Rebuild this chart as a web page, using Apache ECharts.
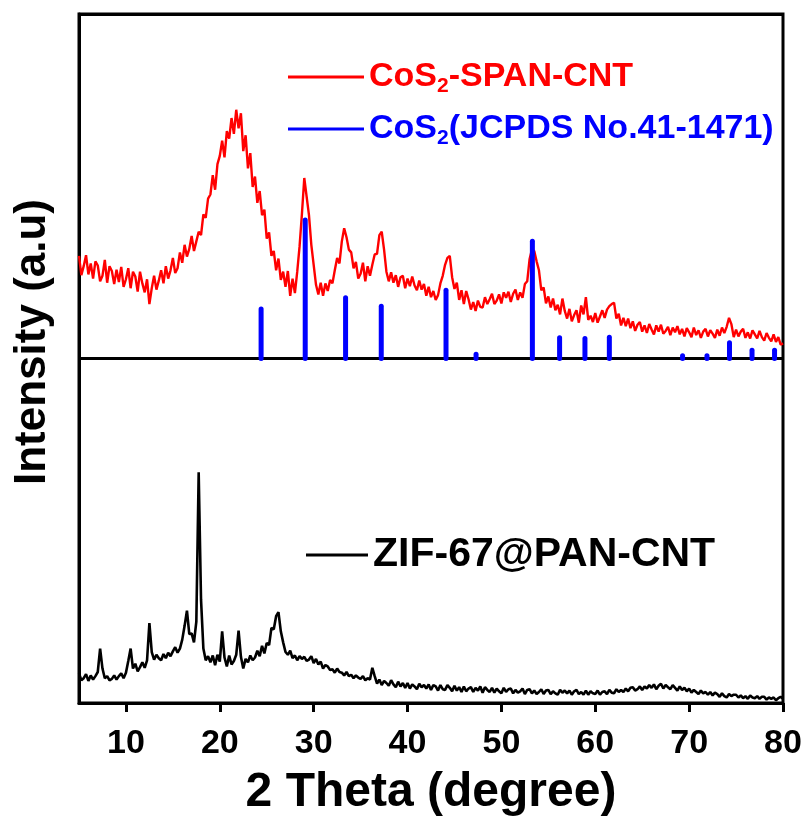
<!DOCTYPE html>
<html>
<head>
<meta charset="utf-8">
<script src="https://cdn.jsdelivr.net/npm/echarts@6/dist/echarts.min.js"></script>
<style>html,body{margin:0;padding:0;background:#fff}#c{width:809px;height:827px}</style>
</head>
<body>
<div id="c"></div>
<script>
// 2-theta grid (degree)
const theta = [
5,5.25,5.5,5.75, 6,6.25,6.5,6.75, 7,7.25,7.5,7.75, 8,8.25,8.5,8.75, 9,9.25,9.5,9.75,
10,10.25,10.5,10.75, 11,11.25,11.5,11.75, 12,12.25,12.5,12.75, 13,13.25,13.5,13.75, 14,14.25,14.5,14.75,
15,15.25,15.5,15.75, 16,16.25,16.5,16.75, 17,17.25,17.5,17.75, 18,18.25,18.5,18.75, 19,19.25,19.5,19.75,
20,20.25,20.5,20.75, 21,21.25,21.5,21.75, 22,22.25,22.5,22.75, 23,23.25,23.5,23.75, 24,24.25,24.5,24.75,
25,25.25,25.5,25.75, 26,26.25,26.5,26.75, 27,27.25,27.5,27.75, 28,28.25,28.5,28.75, 29,29.25,29.5,29.75,
30,30.25,30.5,30.75, 31,31.25,31.5,31.75, 32,32.25,32.5,32.75, 33,33.25,33.5,33.75, 34,34.25,34.5,34.75,
35,35.25,35.5,35.75, 36,36.25,36.5,36.75, 37,37.25,37.5,37.75, 38,38.25,38.5,38.75, 39,39.25,39.5,39.75,
40,40.25,40.5,40.75, 41,41.25,41.5,41.75, 42,42.25,42.5,42.75, 43,43.25,43.5,43.75, 44,44.25,44.5,44.75,
45,45.25,45.5,45.75, 46,46.25,46.5,46.75, 47,47.25,47.5,47.75, 48,48.25,48.5,48.75, 49,49.25,49.5,49.75,
50,50.25,50.5,50.75, 51,51.25,51.5,51.75, 52,52.25,52.5,52.75, 53,53.25,53.5,53.75, 54,54.25,54.5,54.75,
55,55.25,55.5,55.75, 56,56.25,56.5,56.75, 57,57.25,57.5,57.75, 58,58.25,58.5,58.75, 59,59.25,59.5,59.75,
60,60.25,60.5,60.75, 61,61.25,61.5,61.75, 62,62.25,62.5,62.75, 63,63.25,63.5,63.75, 64,64.25,64.5,64.75,
65,65.25,65.5,65.75, 66,66.25,66.5,66.75, 67,67.25,67.5,67.75, 68,68.25,68.5,68.75, 69,69.25,69.5,69.75,
70,70.25,70.5,70.75, 71,71.25,71.5,71.75, 72,72.25,72.5,72.75, 73,73.25,73.5,73.75, 74,74.25,74.5,74.75,
75,75.25,75.5,75.75, 76,76.25,76.5,76.75, 77,77.25,77.5,77.75, 78,78.25,78.5,78.75, 79,79.25,79.5,79.75,
80
];

// CoS2-SPAN-CNT intensity (a.u., offset in upper panel)
const redIntensity = [
64.9,62.1,63.4,65.0, 62.2,63.8,61.6,64.1, 63.5,61.2,62.0,64.3, 61.0,63.4,62.7,60.8, 62.9,61.1,63.3,60.4,
61.5,63.1,60.2,62.6, 61.9,59.7,62.6,60.9, 59.6,61.5,57.9,60.2, 62.0,60.0,61.3,62.8, 60.9,63.4,61.6,62.8,
64.6,62.4,63.1,65.4, 63.9,66.5,64.8,65.9, 67.8,65.6,67.0,68.4, 67.9,70.9,70.4,73.2, 73.8,76.6,74.5,78.2,
79.4,81.6,79.2,83.0, 81.9,84.9,82.6,86.1, 83.4,85.6,80.1,82.4, 77.6,79.8,74.9,76.4, 72.6,74.3,70.8,71.6,
67.4,68.3,64.9,65.6, 62.8,64.5,61.4,62.6, 60.4,62.7,59.1,61.6, 59.5,62.6,66.3,71.0, 76.2,73.5,70.8,66.5,
63.6,60.7,59.3,61.0, 59.1,60.9,59.8,61.4, 60.9,62.8,64.6,63.8, 67.0,68.9,67.6,65.8, 65.4,63.1,64.0,61.6,
62.3,63.9,61.2,63.4, 62.0,63.6,65.1,65.2, 67.9,68.4,65.8,62.6, 61.2,62.5,61.0,62.1, 60.4,61.8,62.0,60.2,
61.6,60.5,61.9,60.6, 59.9,61.3,60.0,60.8, 59.1,60.4,58.9,59.8, 58.5,59.2,60.9,62.0, 63.6,64.6,64.9,61.8,
60.1,61.0,58.5,59.9, 57.9,59.8,58.6,57.1, 58.2,56.9,58.4,57.5, 57.4,58.9,57.9,58.6, 59.4,57.9,58.4,59.3,
58.0,59.6,58.8,59.7, 58.2,59.4,60.0,58.5, 59.6,58.8,60.8,61.2, 64.4,65.8,65.6,64.1, 62.8,59.9,60.3,58.0,
59.0,57.4,58.7,57.0, 57.8,56.4,58.7,56.9, 55.8,57.2,55.4,56.3, 57.0,55.2,57.7,56.4, 58.9,55.6,56.2,55.3,
56.6,55.2,56.1,57.0, 55.9,57.1,57.6,57.9, 58.1,55.8,56.5,54.8, 55.9,54.7,55.8,54.4, 55.4,54.0,54.9,55.3,
53.9,54.8,53.7,55.0, 54.2,53.5,54.8,53.9, 54.9,53.6,54.0,54.6, 53.4,54.5,53.8,54.7, 53.5,54.3,53.2,54.4,
53.8,53.1,54.5,53.4, 54.1,53.0,53.9,54.3, 53.2,54.1,53.6,53.0, 54.2,53.3,54.5,53.7, 54.6,55.9,55.0,53.1,
54.2,53.2,53.9,54.3, 53.0,53.8,52.9,54.1, 53.5,52.9,54.0,53.1, 52.6,53.7,53.0,52.5, 53.5,52.4,53.1,52.0,
52.2
];

// ZIF-67@PAN-CNT intensity (a.u., lower panel)
const blackIntensity = [
4.3,3.3,3.6,4.2, 3.2,4.0,3.4,3.9, 4.5,7.9,5.0,3.6, 3.9,3.3,3.5,4.0, 3.4,3.9,4.3,3.6,
4.4,6.1,7.9,5.0, 5.7,4.6,5.2,5.9, 5.1,6.2,11.6,7.4, 6.3,7.0,6.5,6.2, 7.1,6.5,7.3,6.8,
7.5,8.1,7.3,7.9, 9.2,11.2,13.4,10.0, 10.1,8.8,11.8,33.5, 15.0,7.9,6.2,6.8, 5.9,6.9,5.5,7.0,
6.0,10.4,6.6,5.3, 6.9,5.6,6.1,7.0, 10.5,6.7,5.0,6.4, 5.9,6.9,6.2,6.6, 7.6,6.8,8.3,7.2,
8.7,8.4,10.9,10.7, 12.6,13.2,10.4,8.8, 7.4,7.0,7.6,6.5, 6.9,6.2,6.8,6.4, 6.7,6.1,6.3,6.8,
5.8,6.4,5.6,6.0, 5.0,5.5,5.3,4.8, 4.9,4.4,5.0,4.5, 4.4,4.0,4.5,3.9, 4.1,3.6,4.0,3.7,
3.5,3.9,3.3,3.6, 3.4,5.1,3.9,2.8, 3.4,2.6,3.2,2.9, 2.5,3.3,2.7,2.3, 3.1,2.4,2.9,2.2,
2.9,2.1,2.7,2.4, 2.0,2.8,2.3,2.6, 2.1,2.7,1.9,2.6, 2.4,1.8,2.6,2.0, 1.9,2.6,2.2,1.7,
2.5,1.8,2.3,1.6, 2.4,1.7,2.1,2.3, 1.6,2.2,1.8,2.4, 1.5,2.3,1.9,1.6, 2.2,1.5,2.1,1.7,
1.4,2.2,1.6,2.0, 2.1,1.4,1.9,1.5, 1.7,2.1,1.3,1.9, 2.0,1.4,1.8,1.3, 1.6,2.0,1.3,1.8,
1.9,1.3,1.7,1.4, 1.2,1.9,1.5,1.8, 1.4,1.8,1.2,1.7, 1.9,1.3,1.6,1.2, 1.8,1.2,1.7,1.4,
1.3,1.8,1.2,1.6, 1.7,1.3,1.9,1.5, 1.4,2.0,1.6,1.9, 1.6,2.1,1.7,2.2, 2.3,1.8,2.0,2.4,
1.9,2.4,2.1,2.6, 2.2,2.7,2.0,2.5, 2.8,2.1,2.6,2.3, 2.0,2.6,2.2,1.8, 2.4,1.9,2.2,1.7,
2.1,1.5,1.9,1.6, 1.3,1.8,1.4,1.6, 1.2,1.6,1.1,1.5, 1.3,0.9,1.4,1.0, 0.8,1.3,1.0,1.2,
1.2,0.8,1.1,0.7, 1.0,0.6,1.1,0.8, 0.7,1.0,0.6,0.9, 0.9,0.5,0.8,0.6, 0.8,0.4,0.7,0.9,
0.6
];

// CoS2 reference (JCPDS No.41-1471) stick positions and tops
const stickTheta = [24.4, 29.1, 33.4, 37.2, 44.1, 47.3, 53.3, 56.2, 58.9, 61.5, 69.3, 71.9, 74.3, 76.7, 79.1];
const stickTop   = [57.2, 70.1, 58.8, 57.6, 59.9, 50.6, 67.0, 53.0, 52.9, 53.1, 50.4, 50.4, 52.3, 51.2, 51.2];
const panelBase = 50;

const xTicks = [10, 20, 30, 40, 50, 60, 70, 80];
const nameRed = 'CoS2-SPAN-CNT';
const nameBlue = 'CoS2(JCPDS No.41-1471)';
const nameBlack = 'ZIF-67@PAN-CNT';

const FONT = '"Liberation Sans", Arial, sans-serif';
const chart = echarts.init(document.getElementById('c'));

const legendRich = {
  a: {fontFamily: FONT, fontWeight: 'bold', fontSize: 34, lineHeight: 40},
  s: {fontFamily: FONT, fontWeight: 'bold', fontSize: 21, lineHeight: 22, verticalAlign: 'bottom'}
};
function legendFmt(n) {
  if (n === nameRed) return '{a|CoS}{s|2}{a|-SPAN-CNT}';
  if (n === nameBlue) return '{a|CoS}{s|2}{a|(JCPDS No.41-1471)}';
  return n;
}

chart.setOption({
  animation: false,
  backgroundColor: '#fff',
  grid: {left: 79, right: 26, top: 14, bottom: 124, show: true, borderColor: '#000', borderWidth: 3,
         containLabel: false, outerBoundsMode: 'none'},
  xAxis: {
    type: 'value', min: 5, max: 80,
    name: '2 Theta (degree)', nameLocation: 'middle', nameGap: 66,
    nameTextStyle: {fontFamily: FONT, fontWeight: 'bold', fontSize: 48, color: '#000'},
    axisLine: {show: true, lineStyle: {color: '#000', width: 3}},
    axisTick: {show: true, inside: false, length: 9, lineStyle: {color: '#000', width: 3}, customValues: xTicks},
    axisLabel: {show: true, margin: 24, fontFamily: FONT, fontWeight: 'bold', fontSize: 34, color: '#000', customValues: xTicks},
    splitLine: {show: false}
  },
  yAxis: {
    type: 'value', min: 0, max: 100, interval: 50,
    axisLine: {show: true, lineStyle: {color: '#000', width: 3}},
    axisTick: {show: false}, axisLabel: {show: false},
    splitLine: {show: true, lineStyle: {color: '#000', width: 3}}
  },
  legend: [
    {
      data: [{name: nameRed, textStyle: {color: '#ff0000'}}, {name: nameBlue, textStyle: {color: '#0000ff'}}],
      orient: 'vertical', left: 283, top: 55, itemGap: 15,
      icon: 'rect', itemWidth: 76, itemHeight: 3,
      formatter: legendFmt,
      textStyle: {rich: legendRich, fontFamily: FONT, fontWeight: 'bold', fontSize: 34},
      selectedMode: false
    },
    {
      data: [{name: nameBlack, textStyle: {color: '#000'}}],
      orient: 'vertical', left: 301, top: 526,
      icon: 'rect', itemWidth: 62, itemHeight: 3,
      textStyle: {fontFamily: FONT, fontWeight: 'bold', fontSize: 41, lineHeight: 48, color: '#000'},
      selectedMode: false
    }
  ],
  graphic: [{
    type: 'text', x: 33, y: 342, rotation: Math.PI / 2,
    style: {text: 'Intensity (a.u)', fontFamily: FONT, fontWeight: 'bold', fontSize: 44, fill: '#000', align: 'center', verticalAlign: 'middle'}
  }],
  series: [
    {
      name: nameRed, type: 'line', showSymbol: false, symbol: 'none',
      data: theta.map((t, i) => [t, redIntensity[i]]),
      lineStyle: {color: '#ff0000', width: 2.4}, itemStyle: {color: '#ff0000'}, z: 3
    },
    {
      name: nameBlue, type: 'custom',
      data: stickTheta.map((t, i) => [t, stickTop[i]]),
      itemStyle: {color: '#0000ff'},
      renderItem: function (params, api) {
        const p0 = api.coord([api.value(0), panelBase]);
        const p1 = api.coord([api.value(0), api.value(1)]);
        return {type: 'line', shape: {x1: p0[0], y1: p0[1], x2: p1[0], y2: p1[1]},
          style: {stroke: api.visual('color'), lineWidth: 5, lineCap: 'round'}};
      },
      z: 4
    },
    {
      name: nameBlack, type: 'line', showSymbol: false, symbol: 'none',
      data: theta.map((t, i) => [t, blackIntensity[i]]),
      lineStyle: {color: '#000', width: 2.6}, itemStyle: {color: '#000'}, z: 3
    }
  ]
});
</script>
</body>
</html>
